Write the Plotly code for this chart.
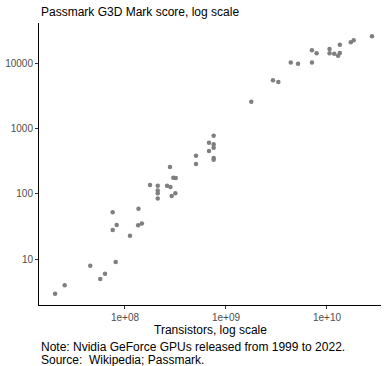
import plotly.graph_objects as go

# Transistor counts and Passmark G3D Mark scores
transistors = [
    2.79e10, 1.84e10, 1.72e10, 1.34e10, 7.1e9, 7.9e9, 1.06e10, 1.06e10, 1.18e10,
    1.34e10, 1.29e10, 4.38e9, 5.17e9, 7.1e9, 2.92e9, 3.3e9, 1.78e9,
    7.55e8, 6.79e8, 7.55e8, 7.55e8, 6.79e8, 5.05e8, 7.55e8, 7.55e8, 5.05e8,
    2.79e8, 3.01e8, 3.18e8, 1.77e8, 2.11e8, 2.61e8, 2.82e8, 2.11e8, 2.11e8,
    3.15e8, 2.9e8, 2.11e8, 1.36e8, 7.55e7, 8.28e7, 7.55e7, 1.47e8, 1.35e8,
    1.12e8, 8.09e7, 4.53e7, 6.34e7, 5.69e7, 2.53e7, 2.03e7,
]
g3d_scores = [
    25600, 22200, 20700, 19000, 15600, 14100, 16400, 14100, 13900,
    14200, 12900, 10200, 9750, 10200, 5450, 5130, 2570,
    776, 607, 574, 509, 453, 384, 355, 334, 287,
    258, 177, 175, 137, 134, 134, 128, 113, 103,
    103, 93, 85, 59.7, 52.6, 33.7, 28.2, 35.3, 33.3,
    23.1, 9.17, 8.03, 6.07, 5.03, 4.03, 3.0,
]

x_tick_vals = [1e8, 1e9, 1e10]
x_tick_text = ["1e+08", "1e+09", "1e+10"]
y_tick_vals = [10, 100, 1000, 10000]
y_tick_text = ["10", "100", "1000", "10000"]

title_text = "Passmark G3D Mark score, log scale"
x_title_text = "Transistors, log scale"
note_text = "Note: Nvidia GeForce GPUs released from 1999 to 2022."
source_text = "Source:  Wikipedia; Passmark."

FONT = "Liberation Sans, Arial, Helvetica, sans-serif"

W, H = 386, 366
L, R, T, B = 39, 5, 23, 61
PW, PH = W - L - R, H - T - B


def py(y_px):
    """paper y coordinate for a pixel row measured from the top of the figure"""
    return (H - B - y_px) / PH


def px(x_px):
    return (x_px - L) / PW


fig = go.Figure(
    go.Scatter(
        x=transistors,
        y=g3d_scores,
        mode="markers",
        marker=dict(color="#7f7f7f", size=4.5, line=dict(width=0)),
        hoverinfo="x+y",
    )
)

axis_common = dict(
    type="log",
    automargin=False,
    showgrid=False,
    zeroline=False,
    showline=True,
    linecolor="black",
    linewidth=1,
    ticks="outside",
    ticklen=3,
    tickwidth=1,
    tickcolor="#333333",
    tickfont=dict(size=10, color="#4d4d4d", family=FONT),
)

fig.update_layout(
    template="none",
    width=W,
    height=H,
    margin=dict(l=L, r=R, t=T, b=B, autoexpand=False),
    paper_bgcolor="white",
    plot_bgcolor="white",
    showlegend=False,
    font=dict(family=FONT, color="black"),
    xaxis=dict(axis_common, range=[7.1485, 10.535], tickvals=x_tick_vals, ticktext=x_tick_text),
    yaxis=dict(axis_common, range=[0.305, 4.611], tickvals=y_tick_vals, ticktext=y_tick_text),
    annotations=[
        dict(text=title_text, x=px(39), y=py(12), xanchor="left", yanchor="middle"),
        dict(text=x_title_text, x=0.5, y=py(330), xanchor="center", yanchor="middle"),
        dict(text=note_text, x=px(39), y=py(346.5), xanchor="left", yanchor="middle"),
        dict(text=source_text, x=px(39), y=py(359.5), xanchor="left", yanchor="middle"),
    ],
)
fig.update_annotations(
    xref="paper", yref="paper", showarrow=False, align="left",
    font=dict(size=12, color="black", family=FONT),
)

fig.write_html(
    "out.html",
    config={"displayModeBar": False},
    post_script="document.body.style.margin='0';document.body.style.overflow='hidden';",
)
